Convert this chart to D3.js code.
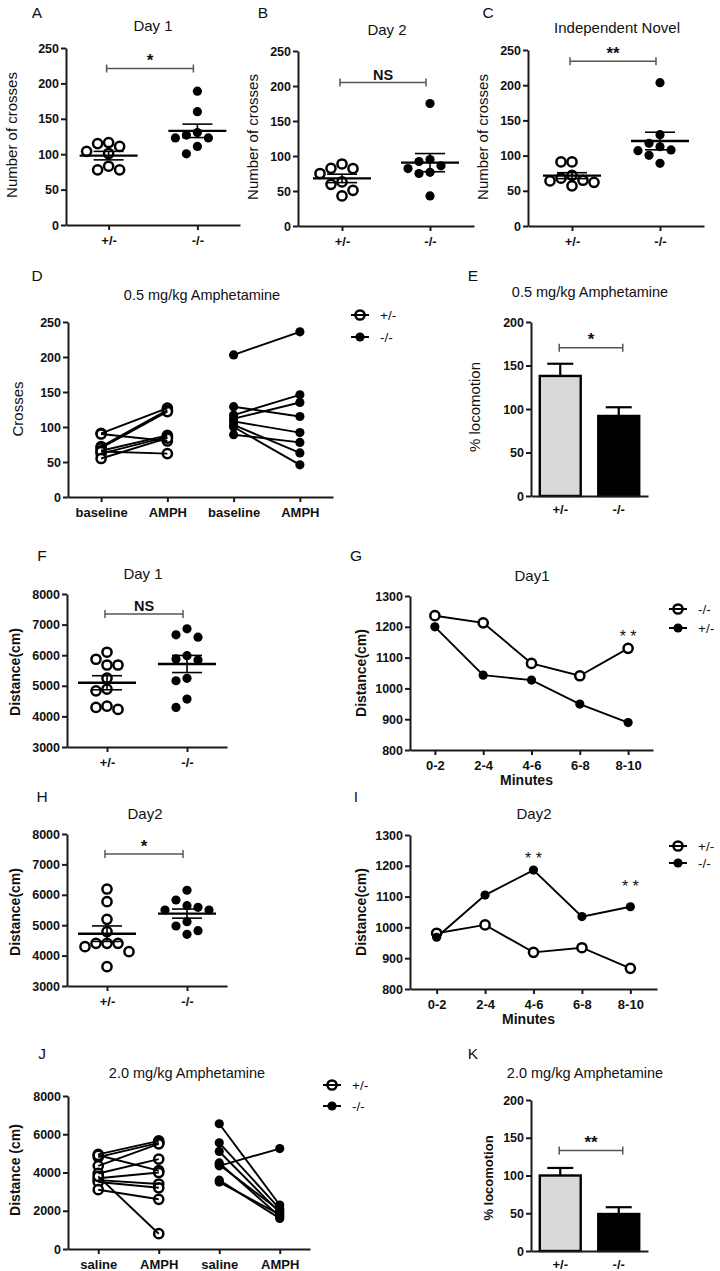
<!DOCTYPE html>
<html><head><meta charset="utf-8">
<script src="https://cdn.jsdelivr.net/npm/d3@7"></script>
<style>body{margin:0;background:#fff}svg{display:block}text{font-family:"Liberation Sans",Arial,sans-serif;fill:#111}</style>
</head><body><svg id="c" width="720" height="1271"></svg>
<script>
// ---------- data ----------
const genotypes = ["+/-", "-/-"];
const crossTicks = [0, 50, 100, 150, 200, 250];
// A: Day 1 crosses
const aHet = [115, 104, 101, 111, 116.5, 83, 78, 78];
const aKo = [189, 160, 130.5, 123, 123, 127, 111, 100.5];
const aMean = [98, 133], aSem = [6, 9.5], aSig = 221;
// B: Day 2 crosses
const bHet = [88.6, 82.4, 82, 75, 63, 59.5, 51, 43];
const bKo = [175, 86, 76.7, 92, 95, 82, 75, 43];
const bMean = [68, 90.5], bSem = [6, 13], bSig = 205;
// C: Independent novel
const cHet = [91, 91, 68, 64, 72, 62, 65, 57];
const cKo = [203.6, 129.7, 117.5, 108, 107, 112.6, 100.4, 89];
const cMean = [71.5, 120.7], cSem = [4.2, 12.5], cSig = 234;
// D: 0.5 mg/kg amphetamine pairs
const dTickLabels = ["baseline", "AMPH", "baseline", "AMPH"];
const dHetBase = [91, 90, 72, 70, 66, 62, 65, 55];
const dHetAmph = [127, 80, 124, 122, 88, 86, 62, 84];
const dKoBase = [203, 129, 117, 112, 108, 103, 100, 89];
const dKoAmph = [236, 115, 146, 135, 92, 63, 46, 78];
// E: % locomotion 0.5 mg/kg
const pctTicks = [0, 50, 100, 150, 200];
const eMean = [138, 92], eSem = [14, 10], eSig = 170.5;
// F: Day 1 distance
const distTicks = [3000, 4000, 5000, 6000, 7000, 8000];
const fHet = [6097, 5680, 5680, 5868, 5250, 4893, 4837, 4335, 4227, 4293];
const fKo = [6665, 6590, 6862, 5985, 5877, 5845, 5244, 5165, 4565, 4293];
const fMean = [5100, 5713], fSem = [230, 280], fSig = 7343;
// G: Day1 time course
const minutes = ["0-2", "2-4", "4-6", "6-8", "8-10"];
const timeTicks = [800, 900, 1000, 1100, 1200, 1300];
const gKo = [1236, 1213, 1081, 1041, 1130];
const gHet = [1200, 1043, 1027, 949, 889];
const gStars = [{ m: "8-10", v: 1168 }];
// H: Day2 distance
const hHet = [6190, 5773, 5194, 4786, 4405, 4293, 4405, 4405, 4128, 3635];
const hKo = [6150, 5829, 5589, 5500, 5500, 5641, 4974, 5115, 4819, 4700];
const hMean = [4721, 5382], hSem = [255, 150], hSig = 7342;
// I: Day2 time course
const iHet = [981, 1008, 919, 934, 867];
const iKo = [968, 1105, 1186, 1035, 1067];
const iStars = [{ m: "4-6", v: 1224 }, { m: "8-10", v: 1134 }];
// J: 2.0 mg/kg amphetamine pairs
const jTickLabels = ["saline", "AMPH", "saline", "AMPH"];
const jTicks = [0, 2000, 4000, 6000, 8000];
const jHetSaline = [4950, 4800, 4900, 4350, 3950, 3700, 3600, 3500, 3100, 3800];
const jHetAmph = [5650, 5550, 4100, 5500, 4700, 4000, 3400, 3200, 2600, 800];
const jKoSaline = [6550, 5550, 5100, 4500, 4350, 3600, 3500, 4400];
const jKoAmph = [2300, 2100, 1900, 1700, 5250, 1600, 1800, 2000];
// K: % locomotion 2.0 mg/kg
const kMean = [100, 49], kSem = [10, 9], kSig = 133;

// ---------- helpers ----------
const svg = d3.select("#c");
const AX = "#1a1a1a";
const TICK_FS = 12.5;

function styleAxis(g, fs) {
  g.selectAll("path,line").attr("stroke", AX).attr("stroke-width", 2);
  g.selectAll("text").attr("font-weight", "bold").attr("font-size", fs || TICK_FS).attr("fill", "#111")
    .attr("font-family", "Liberation Sans, Arial, sans-serif");
}
function axes(x, y, yTicks, xFmt, x0, yb, xfs) {
  const gy = svg.append("g").attr("transform", `translate(${x0},0)`)
    .call(d3.axisLeft(y).tickValues(yTicks).tickSize(5).tickSizeOuter(0).tickPadding(2).tickFormat(d3.format("d")));
  styleAxis(gy);
  const gx = svg.append("g").attr("transform", `translate(0,${yb})`)
    .call(d3.axisBottom(x).tickSize(5).tickSizeOuter(0).tickPadding(6).tickFormat(xFmt || (d => d)));
  styleAxis(gx, xfs);
}
function txt(x, y, s, o = {}) {
  return svg.append("text").attr("x", x).attr("y", y).attr("text-anchor", o.anchor || "middle")
    .attr("dominant-baseline", "central").attr("font-size", o.size || 14.5)
    .attr("font-weight", o.weight || "normal").text(s);
}
function vtxt(x, y, s, o = {}) {
  return svg.append("text").attr("transform", `translate(${x},${y}) rotate(-90)`)
    .attr("text-anchor", "middle").attr("dominant-baseline", "central")
    .attr("font-size", o.size || 15).attr("font-weight", o.weight || "normal").text(s);
}
function line(x1, y1, x2, y2, w, c) {
  svg.append("line").attr("x1", x1).attr("y1", y1).attr("x2", x2).attr("y2", y2)
    .attr("stroke", c || "#000").attr("stroke-width", w || 1.5);
}
function sig(xa, xb, yv, label, o = {}) {
  line(xa, yv, xb, yv, 1.5, "#555");
  line(xa, yv - 4, xa, yv + 4, 1.5, "#555");
  line(xb, yv - 4, xb, yv + 4, 1.5, "#555");
  txt((xa + xb) / 2, yv - (o.dy || 8), label, { size: o.size || 17, weight: o.weight || "bold" });
}
function swarm(values, y, d) {
  const placed = [], offs = new Array(values.length);
  const order = values.map((v, i) => i).sort((a, b) => values[b] - values[a]);
  order.forEach(i => {
    const py = y(values[i]);
    for (let k = 0; k < 30; k++) {
      const o = k === 0 ? 0 : (k % 2 ? -Math.ceil(k / 2) : Math.ceil(k / 2)) * d;
      if (placed.every(p => Math.hypot(p[0] - o, p[1] - py) >= d - 0.5)) {
        offs[i] = o; placed.push([o, py]); break;
      }
    }
  });
  return offs;
}
function openDot(g, cx, cy) {
  g.append("circle").attr("cx", cx).attr("cy", cy).attr("r", 4.6).attr("fill", "#fff")
    .attr("stroke", "#000").attr("stroke-width", 2.5);
}
function fillDot(g, cx, cy) {
  g.append("circle").attr("cx", cx).attr("cy", cy).attr("r", 4.6).attr("fill", "#000");
}
function legend(x, y1, y2, l1, l2, firstOpen) {
  const g = svg.append("g");
  [[y1, l1, firstOpen], [y2, l2, !firstOpen]].forEach(([yy, l, open]) => {
    line(x - 9, yy, x + 9, yy, 2, "#000");
    if (open) openDot(g, x, yy); else fillDot(g, x, yy);
    txt(x + 20, yy, l, { anchor: "start", size: 13.5 });
  });
}

// ---------- scatter (A,B,C,F,H) ----------
function scatter(p) {
  const x = d3.scalePoint().domain(genotypes).range([p.x0, p.x1]).padding(p.pad);
  const y = d3.scaleLinear().domain(p.ydom).range([p.yb, p.yt]);
  axes(x, y, p.yTicks, null, p.x0, p.yb, 13);
  [p.het, p.ko].forEach((vals, gi) => {
    const offs = swarm(vals, y, 11);
    const g = svg.append("g");
    vals.forEach((v, i) => {
      const cx = x(genotypes[gi]) + offs[i], cy = y(v);
      if (gi === 0) openDot(g, cx, cy); else fillDot(g, cx, cy);
    });
  });
  genotypes.forEach((gname, gi) => {
    const cx = x(gname), m = p.mean[gi], s = p.sem[gi];
    line(cx - 29, y(m), cx + 29, y(m), 2.4);
    line(cx, y(m - s), cx, y(m + s), 1.6);
    line(cx - 15, y(m + s), cx + 15, y(m + s), 1.6);
    line(cx - 15, y(m - s), cx + 15, y(m - s), 1.6);
  });
  sig(x(genotypes[0]) - 2, x(genotypes[1]) - 4, y(p.sig), p.sigText, { size: p.sigSize });
  txt(p.title[0], p.title[1], p.title[2], { size: 15 });
  vtxt(p.ylab[0], p.ylab[1], p.ylab[2], { size: p.ylabSize || 15, weight: p.ylabWeight || "normal" });
  txt(p.letter[0], p.letter[1], p.letter[2], { size: 15.5 });
}

scatter({ x0: 66, x1: 240, pad: 0.48, yb: 225, yt: 48, ydom: [0, 250], yTicks: crossTicks,
  het: aHet, ko: aKo, mean: aMean, sem: aSem, sig: aSig, sigText: "*",
  title: [153, 25, "Day 1"], ylab: [11, 135, "Number of crosses"], letter: [37, 12, "A"] });
scatter({ x0: 298, x1: 474, pad: 0.5, yb: 226, yt: 51, ydom: [0, 250], yTicks: crossTicks,
  het: bHet, ko: bKo, mean: bMean, sem: bSem, sig: bSig, sigText: "NS", sigSize: 14.5,
  title: [387, 29, "Day 2"], ylab: [252, 137, "Number of crosses"], letter: [263, 12, "B"] });
scatter({ x0: 528, x1: 704, pad: 0.5, yb: 226, yt: 50, ydom: [0, 250], yTicks: crossTicks,
  het: cHet, ko: cKo, mean: cMean, sem: cSem, sig: cSig, sigText: "**",
  title: [617, 27, "Independent Novel"], ylab: [482, 137, "Number of crosses"], letter: [488, 12, "C"] });
scatter({ x0: 67, x1: 227, pad: 0.5, yb: 747, yt: 594, ydom: [3000, 8000], yTicks: distTicks,
  het: fHet, ko: fKo, mean: fMean, sem: fSem, sig: fSig, sigText: "NS", sigSize: 14.5,
  title: [143, 573, "Day 1"], ylab: [15, 672, "Distance(cm)"], ylabSize: 14, ylabWeight: "bold",
  letter: [42, 555, "F"] });
scatter({ x0: 67, x1: 227, pad: 0.5, yb: 986, yt: 834, ydom: [3000, 8000], yTicks: distTicks,
  het: hHet, ko: hKo, mean: hMean, sem: hSem, sig: hSig, sigText: "*",
  title: [145, 813, "Day2"], ylab: [15, 912, "Distance(cm)"], ylabSize: 14, ylabWeight: "bold",
  letter: [42, 796, "H"] });

// ---------- paired (D,J) ----------
function paired(p) {
  const idx = [0, 1, 2, 3];
  const x = d3.scalePoint().domain(idx).range([p.x0, p.x1]).padding(0.5);
  const y = d3.scaleLinear().domain(p.ydom).range([p.yb, p.yt]);
  axes(x, y, p.yTicks, i => p.labels[i], p.x0, p.yb, 13);
  const g = svg.append("g");
  const draw = (a, b, i0, open) => {
    a.forEach((v, i) => line(x(i0), y(v), x(i0 + 1), y(b[i]), 1.9, "#000"));
    a.forEach((v, i) => {
      if (open) { openDot(g, x(i0), y(v)); openDot(g, x(i0 + 1), y(b[i])); }
      else { fillDot(g, x(i0), y(v)); fillDot(g, x(i0 + 1), y(b[i])); }
    });
  };
  draw(p.hetA, p.hetB, 0, true);
  draw(p.koA, p.koB, 2, false);
  txt(p.title[0], p.title[1], p.title[2], { size: 14.5 });
  vtxt(p.ylab[0], p.ylab[1], p.ylab[2], { size: p.ylabSize || 15, weight: p.ylabWeight || "normal" });
  txt(p.letter[0], p.letter[1], p.letter[2], { size: 15.5 });
  legend(p.leg[0], p.leg[1], p.leg[2], "+/-", "-/-", true);
}
paired({ x0: 68, x1: 333, yb: 497, yt: 322, ydom: [0, 250], yTicks: crossTicks, labels: dTickLabels,
  hetA: dHetBase, hetB: dHetAmph, koA: dKoBase, koB: dKoAmph,
  title: [202, 295, "0.5 mg/kg Amphetamine"], ylab: [17.5, 409, "Crosses"], letter: [37, 275, "D"],
  leg: [360, 315, 337] });
paired({ x0: 68, x1: 310, yb: 1249, yt: 1096, ydom: [0, 8000], yTicks: jTicks, labels: jTickLabels,
  hetA: jHetSaline, hetB: jHetAmph, koA: jKoSaline, koB: jKoAmph,
  title: [187, 1073, "2.0 mg/kg Amphetamine"], ylab: [15, 1170, "Distance (cm)"], ylabSize: 14,
  ylabWeight: "bold", letter: [42, 1053, "J"], leg: [332, 1085, 1106] });

// ---------- bars (E,K) ----------
function bars(p) {
  const x = d3.scaleBand().domain(genotypes).range([531, 648]).paddingInner(0.3).paddingOuter(0.15);
  const y = d3.scaleLinear().domain([0, 200]).range([p.yb, p.yt]);
  const fills = ["#d9d9d9", "#000"];
  genotypes.forEach((gname, gi) => {
    const cx = x(gname) + x.bandwidth() / 2, m = p.mean[gi], s = p.sem[gi];
    line(cx, y(m), cx, y(m + s), 2.2, "#000");
    line(cx - 13, y(m + s), cx + 13, y(m + s), 2.2, "#000");
    svg.append("rect").attr("x", x(gname)).attr("y", y(m)).attr("width", x.bandwidth())
      .attr("height", y(0) - y(m)).attr("fill", fills[gi]).attr("stroke", "#000").attr("stroke-width", 2.4);
  });
  const gy = svg.append("g").attr("transform", "translate(531,0)")
    .call(d3.axisLeft(y).tickValues(pctTicks).tickSize(5).tickSizeOuter(0).tickPadding(2));
  styleAxis(gy);
  const gx = svg.append("g").attr("transform", `translate(0,${p.yb})`)
    .call(d3.axisBottom(x).tickSize(0).tickPadding(9));
  styleAxis(gx, 13);
  const c0 = x(genotypes[0]) + x.bandwidth() / 2, c1 = x(genotypes[1]) + x.bandwidth() / 2;
  sig(c0 - 1, c1 + 4, y(p.sig), p.sigText);
  txt(p.title[0], p.title[1], p.title[2], { size: 14.5 });
  vtxt(p.ylab[0], p.ylab[1], "% locomotion", { size: p.ylabSize, weight: p.ylabWeight });
  txt(p.letter[0], p.letter[1], p.letter[2], { size: 15.5 });
}
bars({ yb: 496, yt: 322, mean: eMean, sem: eSem, sig: eSig, sigText: "*",
  title: [590, 292, "0.5 mg/kg Amphetamine"], ylab: [474, 407], ylabSize: 15, ylabWeight: "normal",
  letter: [473, 275, "E"] });
bars({ yb: 1251, yt: 1100, mean: kMean, sem: kSem, sig: kSig, sigText: "**",
  title: [585, 1073, "2.0 mg/kg Amphetamine"], ylab: [488, 1178], ylabSize: 13, ylabWeight: "bold",
  letter: [473, 1053, "K"] });

// ---------- time course (G,I) ----------
function timecourse(p) {
  const x = d3.scalePoint().domain(minutes).range([p.x0, p.x1]).padding(p.pad);
  const y = d3.scaleLinear().domain([800, 1300]).range([p.yb, p.yt]);
  axes(x, y, timeTicks, null, p.x0, p.yb, 13);
  const ln = d3.line().x((d, i) => x(minutes[i])).y(d => y(d));
  const g = svg.append("g");
  [p.open, p.filled].forEach(vals => {
    g.append("path").attr("d", ln(vals)).attr("fill", "none").attr("stroke", "#000").attr("stroke-width", 1.9);
  });
  [[p.open, true], [p.filled, false]].forEach(([vals, open]) => {
    vals.forEach((v, i) => open ? openDot(g, x(minutes[i]), y(v)) : fillDot(g, x(minutes[i]), y(v)));
  });
  p.stars.forEach(s => txt(x(s.m), y(s.v), "* *", { size: 16 }));
  txt((p.x0 + p.x1) / 2 - 5, p.yb + 30, "Minutes", { size: 14, weight: "bold" });
  txt(p.title[0], p.title[1], p.title[2], { size: 15 });
  vtxt(p.ylab[0], p.ylab[1], "Distance(cm)", { size: 14, weight: "bold" });
  txt(p.letter[0], p.letter[1], p.letter[2], { size: 15.5 });
  legend(678, p.leg[0], p.leg[1], p.legLabels[0], p.legLabels[1], true);
}
timecourse({ x0: 410, x1: 653, pad: 0.515, yb: 750, yt: 596, open: gKo, filled: gHet, stars: gStars,
  title: [532, 575, "Day1"], ylab: [361, 673], letter: [356, 555, "G"], leg: [609, 628], legLabels: ["-/-", "+/-"] });
timecourse({ x0: 410, x1: 657, pad: 0.55, yb: 989, yt: 835, open: iHet, filled: iKo, stars: iStars,
  title: [534, 813, "Day2"], ylab: [361, 912], letter: [356, 796, "I"], leg: [846, 863], legLabels: ["+/-", "-/-"] });
</script></body></html>
